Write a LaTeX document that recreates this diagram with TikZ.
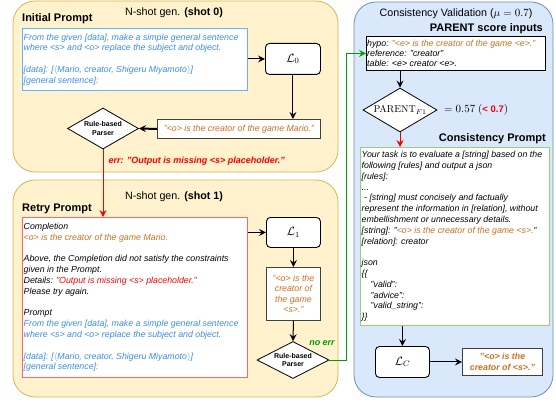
\documentclass[tikz,border=0pt]{standalone}
\usepackage[no-math]{fontspec}
\setmainfont{Liberation Sans}
\usetikzlibrary{shapes.geometric,arrows.meta}

\definecolor{yfill}{HTML}{FFF2CC}
\definecolor{ydraw}{HTML}{D6B656}
\definecolor{bfill}{HTML}{DAE8FC}
\definecolor{bdraw}{HTML}{6C8EBF}
\definecolor{btxt}{HTML}{3B8DE8}
\definecolor{otxt}{HTML}{CC7022}
\definecolor{rtxt}{HTML}{F50000}
\definecolor{gline}{HTML}{00A000}
\definecolor{rbox}{HTML}{FF6666}
\definecolor{bbox}{HTML}{66B2FF}
\definecolor{gbox}{HTML}{97D077}

\tikzset{
  ypanel/.style={draw=ydraw, fill=yfill, rounded corners=22pt, line width=0.8pt},
  bpanel/.style={draw=bdraw, fill=bfill, rounded corners=22pt, line width=0.8pt},
  txtbox/.style={draw, fill=white, line width=0.8pt, anchor=north west, inner sep=0pt},
  boxtext/.style={anchor=west, align=left, inner sep=1.5pt, font=\fontsize{8.8}{10.8}\selectfont\itshape},
  lbox/.style={draw, fill=white, rounded corners=4pt, line width=0.9pt, anchor=north west,
    inner sep=0pt, font=\large},
  outbox/.style={draw=black!75, fill=white, line width=0.9pt, anchor=north west, align=center,
    inner sep=0pt, text=otxt, font=\fontsize{8.8}{10.2}\selectfont\itshape},
  parser/.style={diamond, shape aspect=1.75, draw, fill=white, line width=0.8pt, inner sep=0pt,
    align=center, font=\fontsize{7}{8.5}\selectfont\bfseries},
  arr/.style={-{Stealth[length=7pt,width=7pt,inset=2.5pt]}, line width=1pt},
  ttl/.style={font=\fontsize{10.7}{13}\selectfont},
  head/.style={font=\fontsize{11}{13}\selectfont\bfseries},
}

\begin{document}
\begin{tikzpicture}[x=1pt,y=-1pt]
\useasboundingbox (0,0) rectangle (556,401);

% panels
\draw[ypanel] (13,1) rectangle (338,172);
\draw[ypanel] (13,180) rectangle (338,397);
\draw[bpanel] (354,2) rectangle (553,397);

% shot 0
\node[ttl] (t0) at (174,13) {N-shot gen. \textbf{(shot 0)}};
\node[head, anchor=west, inner sep=0pt] (h0) at (22,19) {Initial Prompt};
\node[txtbox, draw=bbox, minimum width=225pt, minimum height=62pt] (init) at (22,28) {};
\node[boxtext, text=btxt] (initT) at (init.west)
  {From the given [data], make a simple general sentence\\
   where <s> and <o> replace the subject and object.\\[10.8pt]
   {}[data]: [$\langle$Mario, creator, Shigeru Miyamoto$\rangle$]\\{}[general sentence]:};
\node[lbox, minimum width=55pt, minimum height=31pt] (l0) at (265,43) {$\mathcal{L}_0$};
\node[outbox, minimum width=163pt, minimum height=19pt] (out0) at (157,119)
  {"<o> is the creator of the game Mario."};
\node[parser, minimum width=71pt, minimum height=41pt] (p1) at (103,128.5) {Rule-based\\Parser};

\draw[arr] (init.east |- l0.west) -- (l0.west);
\draw[arr] (l0.south) -- (l0.south |- out0.north);
\draw[arr, line width=2pt] (out0.west) -- (p1.east);

% shot 1
\node[ttl] (t1) at (174,197) {N-shot gen. \textbf{(shot 1)}};
\node[head, anchor=west, inner sep=0pt] (h1) at (22,209) {Retry Prompt};
\node[txtbox, draw=rbox, minimum width=225pt, minimum height=160pt] (retry) at (22,217) {};
\node[boxtext] (retryT) at (retry.west)
  {Completion\\
   \textcolor{otxt}{<o> is the creator of the game Mario.}\\[10.8pt]
   Above, the Completion did not satisfy the constraints\\
   given in the Prompt.\\
   Details: \textcolor{rtxt}{"Output is missing <s> placeholder."}\\
   Please try again.\\[10.8pt]
   Prompt\\
   \textcolor{btxt}{From the given [data], make a simple general sentence}\\
   \textcolor{btxt}{where <s> and <o> replace the subject and object.}\\[10.8pt]
   \textcolor{btxt}{[data]: [$\langle$Mario, creator, Shigeru Miyamoto$\rangle$]}\\
   \textcolor{btxt}{[general sentence]:}};
\node[lbox, minimum width=54pt, minimum height=30pt] (l1) at (266,217) {$\mathcal{L}_1$};
\node[outbox, minimum width=54pt, minimum height=53pt] (out1) at (266,267)
  {"<o> is the\\creator of\\the game\\<s>."};
\node[parser, minimum width=72pt, minimum height=37pt] (p2) at (293,360) {Rule-based\\Parser};

\draw[arr, rtxt] (p1.south) -- (p1.south |- retry.north);
\node[anchor=west, text=rtxt, font=\fontsize{9}{10}\selectfont\bfseries\itshape] (err) at (105,161)
  {err: "Output is missing <s> placeholder."};
\draw[arr] (retry.east |- l1.west) -- (l1.west);
\draw[arr] (l1.south) -- (out1.north);
\draw[arr] (out1.south) -- (p2.north);

% consistency validation
\node[ttl] (t2) at (456,14) {Consistency Validation ($\mu = 0.7$)};
\node[head, anchor=east, inner sep=0pt] (h2) at (543,29) {PARENT score inputs};
\node[txtbox, minimum width=179pt, minimum height=34pt] (hypo) at (366,36) {};
\node[boxtext, inner sep=1pt, font=\fontsize{8.8}{10}\selectfont\itshape] (hypoT) at (hypo.west)
  {hypo: \textcolor{otxt}{"<e> is the creator of the game <e>."}\\
   reference: "creator"\\
   table: <e> creator <e>.};
\node[parser, minimum width=74pt, minimum height=44pt, font=\fontsize{10}{12}\selectfont] (pd) at (400,110)
  {$\mathrm{PARENT}_{F1}$};
\node[anchor=west, inner sep=0pt, font=\fontsize{10.5}{12}\selectfont] (score) at (444,110)
  {$= 0.57$ $($\textcolor{rtxt}{\bfseries\fontsize{9.5}{11}\selectfont < 0.7}$)$};
\node[head, anchor=east, inner sep=0pt] (h3) at (546,139) {Consistency Prompt};
\node[txtbox, draw=gbox, minimum width=189pt, minimum height=178pt] (cons) at (360,147) {};
\node[boxtext] (consT) at (cons.west)
  {Your task is to evaluate a [string] based on the\\
   following [rules] and output a json\\{}[rules]:\\
   ...\\
   \ - [string] must concisely and factually\\
   represent the information in [relation], without\\
   embellishment or unnecessary details.\\{}[string]: "\textcolor{otxt}{<o> is the creator of the game <s>.}"\\{}[relation]: creator\\[10.8pt]
   json\\
   \{\{\\
   \hspace*{9pt}"valid":\\
   \hspace*{9pt}"advice":\\
   \hspace*{9pt}"valid\_string":\\
   \}\}};
\node[lbox, minimum width=54pt, minimum height=31pt] (lc) at (375,346) {$\mathcal{L}_C$};
\node[outbox, minimum width=80pt, minimum height=27pt, font=\fontsize{8.8}{10.7}\selectfont\bfseries\itshape] (outc) at (462,348)
  {"<o> is the\\creator of <s>."};

\draw[arr, gline] (p2.east) -- ++(17,0) |- (hypo.west);
\node[text=gline, font=\fontsize{9}{10}\selectfont\bfseries\itshape] (noerr) at (322,343) {no err};
\draw[arr] (pd.north |- hypo.south) -- (pd.north);
\draw[arr, rtxt] (pd.south) -- (pd.south |- cons.north);
\draw[arr] (lc.north |- cons.south) -- (lc.north);
\draw[arr] (lc.east) -- (outc.west);
\end{tikzpicture}
\end{document}
